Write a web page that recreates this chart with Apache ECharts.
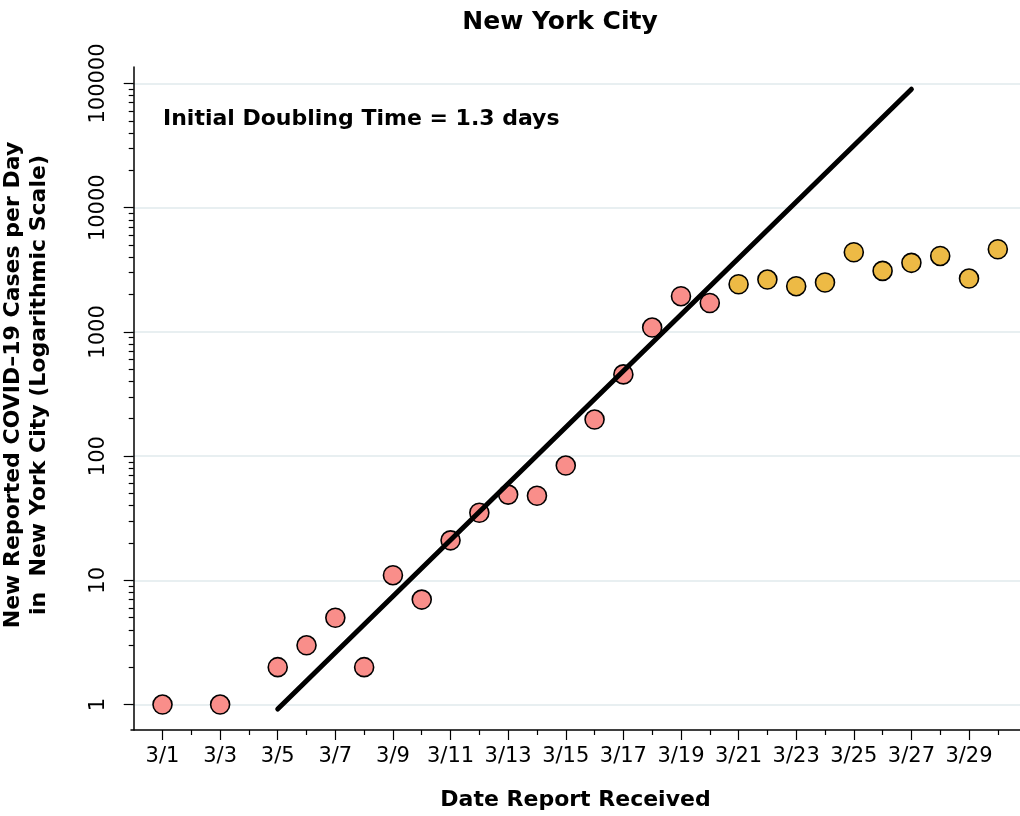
<!DOCTYPE html>
<html>
<head>
<meta charset="utf-8">
<script src="https://cdn.jsdelivr.net/npm/echarts@6/dist/echarts.min.js"></script>
<style>
  html, body { margin: 0; padding: 0; background: #ffffff; }
  #chart { width: 1020px; height: 816px; }
</style>
</head>
<body>
<div id="chart"></div>
<script>
// Day of March for each daily report, and new cases reported that day
const earlyDays  = [1, 3, 5, 6, 7, 8, 9, 10, 11, 12, 13, 14, 15, 16, 17, 18, 19, 20];
const earlyCases = [1, 1, 2, 3, 5, 2, 11, 7, 21, 35, 49, 48, 84, 197, 455, 1085, 1940, 1710];
const laterDays  = [21, 22, 23, 24, 25, 26, 27, 28, 29, 30];
const laterCases = [2420, 2640, 2335, 2500, 4380, 3100, 3600, 4090, 2690, 4630];

// Exponential fit (straight on the log scale), given by its two end points
const fitDays  = [5, 27];
const fitCases = [0.92, 90000];

// Axis ticks
const labelledDays = [1, 3, 5, 7, 9, 11, 13, 15, 17, 19, 21, 23, 25, 27, 29];
const otherDays    = [2, 4, 6, 8, 10, 12, 14, 16, 18, 20, 22, 24, 26, 28, 30];
const decadeTicks  = [1, 10, 100, 1000, 10000, 100000];
const minorMultipliers = [2, 3, 4, 5, 6, 7, 8, 9];

const FONT = 'DejaVu Sans';
const X_MIN = -0.094, X_MAX = 30.77;
const Y_MIN = 0.624, Y_MAX = 135800;

const minorCaseTicks = [];
decadeTicks.slice(0, 5).forEach(d => minorMultipliers.forEach(m => minorCaseTicks.push(d * m)));

const chart = echarts.init(document.getElementById('chart'), null, { renderer: 'canvas' });

const option = {
  backgroundColor: '#ffffff',
  animation: false,
  grid: { left: 131, right: 0, top: 67, bottom: 85, containLabel: false },
  xAxis: [
    {
      type: 'value', min: X_MIN, max: X_MAX,
      name: 'Date Report Received', nameLocation: 'middle', nameGap: 59,
      nameTextStyle: { fontFamily: FONT, fontWeight: 'bold', fontSize: 22, color: '#000' },
      axisLine: { show: true, onZero: false, lineStyle: { color: '#000', width: 1.5 } },
      axisTick: { show: true, length: 10, lineStyle: { color: '#000', width: 1.2 }, customValues: labelledDays },
      axisLabel: {
        show: true, customValues: labelledDays, margin: 16,
        fontFamily: FONT, fontSize: 21, color: '#000',
        formatter: v => '3/' + v
      },
      splitLine: { show: false }
    },
    {
      type: 'value', min: X_MIN, max: X_MAX, position: 'bottom',
      axisLine: { show: false },
      axisTick: { show: true, length: 5, lineStyle: { color: '#000', width: 1.2 }, customValues: otherDays },
      axisLabel: { show: false },
      splitLine: { show: false }
    }
  ],
  yAxis: [
    {
      type: 'log', logBase: 10, min: Y_MIN, max: Y_MAX,
      axisLine: { show: true, lineStyle: { color: '#000', width: 1.5 } },
      axisTick: { show: true, length: 10, lineStyle: { color: '#000', width: 1.2 }, customValues: decadeTicks },
      axisLabel: {
        show: true, customValues: decadeTicks, rotate: 90, margin: 22,
        fontFamily: FONT, fontSize: 21, color: '#000',
        formatter: v => String(Math.round(v))
      },
      splitLine: { show: true, lineStyle: { color: '#e8eff1', width: 2 } }
    },
    {
      type: 'log', logBase: 10, min: Y_MIN, max: Y_MAX, position: 'left',
      axisLine: { show: false },
      axisTick: { show: true, length: 5, lineStyle: { color: '#000', width: 1.2 }, customValues: minorCaseTicks },
      axisLabel: { show: false },
      splitLine: { show: false }
    }
  ],
  series: [
    {
      name: 'fit', type: 'line', xAxisIndex: 0, yAxisIndex: 0,
      data: fitDays.map((d, i) => [d, fitCases[i]]),
      showSymbol: false, symbol: 'none',
      lineStyle: { color: '#000', width: 5, cap: 'round' },
      z: 3
    },
    {
      name: 'early', type: 'scatter', xAxisIndex: 0, yAxisIndex: 0,
      data: earlyDays.map((d, i) => [d, earlyCases[i]]),
      symbol: 'circle', symbolSize: 19,
      itemStyle: { color: '#f98e8a', borderColor: '#000', borderWidth: 1.6, opacity: 1 },
      z: 2
    },
    {
      name: 'later', type: 'scatter', xAxisIndex: 0, yAxisIndex: 0,
      data: laterDays.map((d, i) => [d, laterCases[i]]),
      symbol: 'circle', symbolSize: 19,
      itemStyle: { color: '#edba45', borderColor: '#000', borderWidth: 1.6, opacity: 1 },
      z: 2
    }
  ],
  graphic: [
    {
      type: 'text', x: 560, y: 22,
      style: { text: 'New York City', align: 'center', verticalAlign: 'middle',
               font: 'bold 25px "DejaVu Sans"', fill: '#000' }
    },
    {
      type: 'text', x: 163, y: 119,
      style: { text: 'Initial Doubling Time = 1.3 days', align: 'left', verticalAlign: 'middle',
               font: 'bold 22px "DejaVu Sans"', fill: '#000' }
    },
    {
      type: 'text', x: 13, y: 385, rotation: Math.PI / 2,
      style: { text: 'New Reported COVID\u201319 Cases per Day', align: 'center', verticalAlign: 'middle',
               font: 'bold 22px "DejaVu Sans"', fill: '#000' }
    },
    {
      type: 'text', x: 39, y: 385, rotation: Math.PI / 2,
      style: { text: 'in  New York City (Logarithmic Scale)', align: 'center', verticalAlign: 'middle',
               font: 'bold 22px "DejaVu Sans"', fill: '#000' }
    }
  ]
};

chart.setOption(option);
</script>
</body>
</html>
